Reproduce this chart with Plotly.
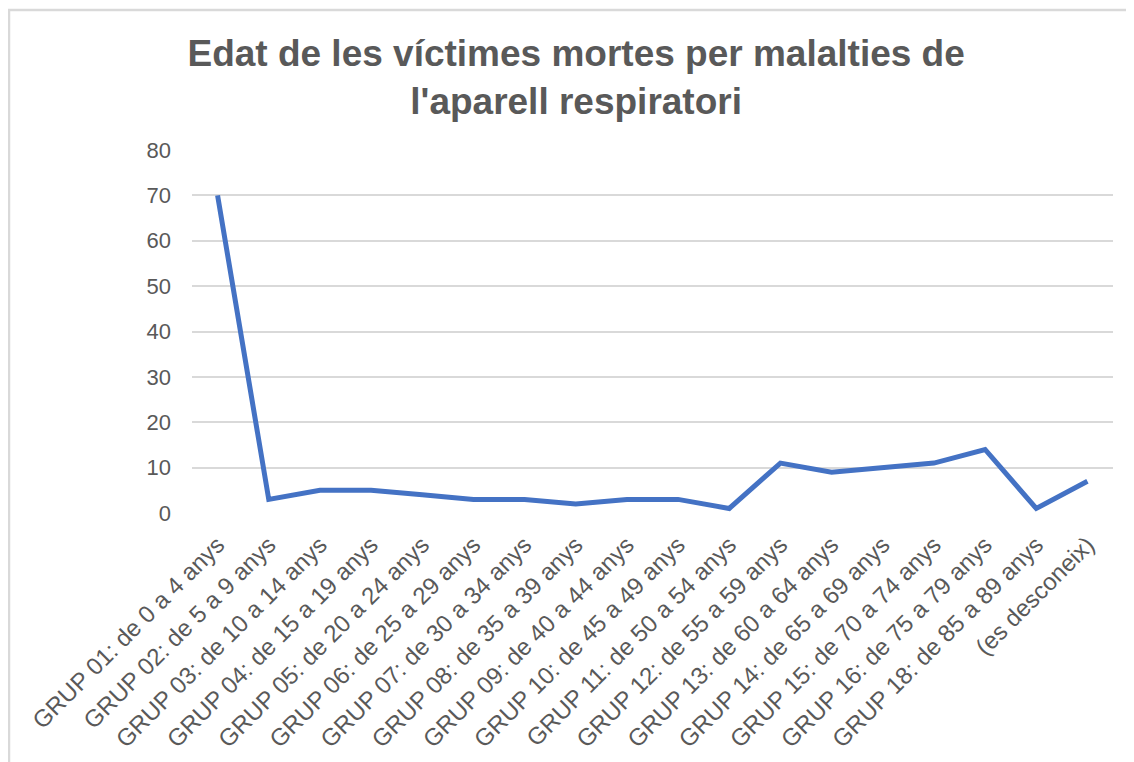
import plotly.graph_objects as go

categories = [
    "GRUP 01: de 0 a 4 anys", "GRUP 02: de 5 a 9 anys", "GRUP 03: de 10 a 14 anys",
    "GRUP 04: de 15 a 19 anys", "GRUP 05: de 20 a 24 anys", "GRUP 06: de 25 a 29 anys",
    "GRUP 07: de 30 a 34 anys", "GRUP 08: de 35 a 39 anys", "GRUP 09: de 40 a 44 anys",
    "GRUP 10: de 45 a 49 anys", "GRUP 11: de 50 a 54 anys", "GRUP 12: de 55 a 59 anys",
    "GRUP 13: de 60 a 64 anys", "GRUP 14: de 65 a 69 anys", "GRUP 15: de 70 a 74 anys",
    "GRUP 16: de 75 a 79 anys", "GRUP 18: de 85 a 89 anys", "(es desconeix)",
]
values = [70, 3, 5, 5, 4, 3, 3, 2, 3, 3, 1, 11, 9, 10, 11, 14, 1, 7]
y_ticks = [0, 10, 20, 30, 40, 50, 60, 70, 80]

# page body adds an 8px offset; figure coords = screenshot coords - 8
OFF = 8
W, H = 1134, 762
L, R, T, B = 192 - OFF, 21 + OFF, 150 - OFF, 249 + OFF
pw, ph = W - L - R, H - T - B

def px_x(p):
    return (p - OFF - L) / pw

def px_y(p):
    return (H - B - (p - OFF)) / ph

fig = go.Figure()
fig.add_trace(go.Scatter(
    x=categories, y=values, mode="lines",
    line=dict(color="#4472C4", width=5),
    hoverinfo="x+y",
))

fig.update_layout(
    width=W, height=H,
    margin=dict(l=L, r=R, t=T, b=B, autoexpand=False),
    paper_bgcolor="white", plot_bgcolor="white",
    font=dict(family="Liberation Sans, Arial, sans-serif", color="#595959"),
    title=dict(
        text="<b>Edat de les víctimes mortes per malalties de<br>l'aparell respiratori</b>",
        x=0.501, xref="container", xanchor="center",
        y=1 - 58 / H, yref="container", yanchor="top",
        font=dict(size=37, color="#595959"),
    ),
    xaxis=dict(
        tickangle=-45, tickfont=dict(size=24, color="#595959"),
        showgrid=False, showline=False, ticks="", zeroline=False,
        range=[-0.5, len(categories) - 0.5], automargin=False,
        ticklabelstandoff=12,
    ),
    yaxis=dict(
        range=[0, 80], tickvals=y_ticks, tickfont=dict(size=22, color="#595959"),
        showgrid=True, gridcolor="#D9D9D9", gridwidth=2,
        zeroline=False, showline=False, ticks="", ticklabelstandoff=20,
        automargin=False,
    ),
    showlegend=False,
    shapes=[
        dict(type="line", xref="paper", yref="paper",
             x0=px_x(7), x1=px_x(1150), y0=px_y(10), y1=px_y(10),
             line=dict(color="#D9D9D9", width=2.5)),
        dict(type="line", xref="paper", yref="paper",
             x0=px_x(9), x1=px_x(9), y0=px_y(9), y1=px_y(780),
             line=dict(color="#D9D9D9", width=2.5)),
    ],
)

fig.write_html("out.html")
